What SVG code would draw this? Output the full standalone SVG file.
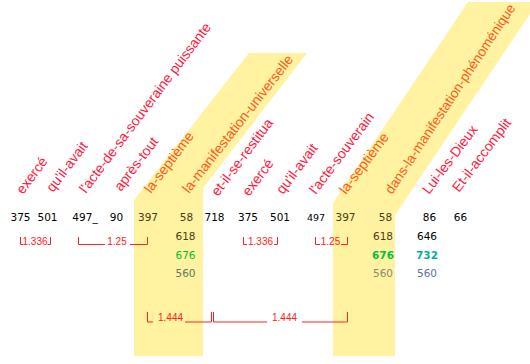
<svg xmlns="http://www.w3.org/2000/svg" width="530" height="364" viewBox="0 0 530 364">
<style>
.lbl{font-family:"Liberation Sans",Arial,sans-serif;font-size:14px;fill:#ff1a40}
.lbo{fill:#ff5a1a}
.num{font-family:"DejaVu Sans",Verdana,sans-serif;font-size:10.5px;fill:#000;text-anchor:middle}
.dk{fill:#4a3c14}
.br{fill:none;stroke:#ff2020;stroke-width:1}
.bt{font-family:"Liberation Sans",Arial,sans-serif;font-size:10px;fill:#ff2020;text-anchor:middle}
.band{fill:#fff2a0}
</style>
<rect width="530" height="364" fill="#ffffff"/>
<g id="band1"><polygon class="band" points="249,53 307,53 203,188 203,356 134,356 134,200"/></g>
<g id="band2"><polygon class="band" points="468,2 538,2 395,215 395,356 333,356 333,203"/></g>
<g id="labels">
<text class="lbl" x="23" y="195" transform="rotate(-53 23 195)">exercé</text>
<text class="lbl" x="53" y="193" transform="rotate(-53 53 193)">qu'il-avait</text>
<text class="lbl" x="86" y="194" transform="rotate(-53 86 194)">l'acte-de-sa-souveraine puissante</text>
<text class="lbl" x="121" y="192" transform="rotate(-53 121 192)">après-tout</text>
<text class="lbl lbo" x="151" y="194" transform="rotate(-53 151 194)">la-septième</text>
<text class="lbl lbo" x="189" y="194" transform="rotate(-52 189 194)">la-manifestation-universelle</text>
<text class="lbl" x="218" y="197" transform="rotate(-53 218 197)">et-il-se-restitua</text>
<text class="lbl" x="249" y="197" transform="rotate(-53 249 197)">exercé</text>
<text class="lbl" x="283" y="195" transform="rotate(-53 283 195)">qu'il-avait</text>
<text class="lbl" x="316" y="195" transform="rotate(-53 316 195)">l'acte-souverain</text>
<text class="lbl lbo" x="346" y="195" transform="rotate(-53 346 195)">la-septième</text>
<text class="lbl lbo" x="392" y="195" transform="rotate(-56.5 392 195)" style="font-size:13.6px">dans-la-manifestation-phénoménique</text>
<text class="lbl" x="429" y="195" transform="rotate(-53 429 195)">Lui-les-Dieux</text>
<text class="lbl" x="459" y="193" transform="rotate(-53 459 193)">Et-il-accomplit</text>
</g>
<g id="numbers">
<text class="num" x="20.5" y="221">375</text>
<text class="num" x="47.5" y="221">501</text>
<text class="num" x="85" y="221">497_</text>
<text class="num" x="116.5" y="221">90</text>
<text class="num dk" x="148" y="221">397</text>
<text class="num dk" x="186.5" y="221">58</text>
<text class="num" x="214.5" y="221">718</text>
<text class="num" x="248" y="221">375</text>
<text class="num" x="280" y="221">501</text>
<text class="num" x="316" y="221" style="font-size:9.5px">497</text>
<text class="num dk" x="345.5" y="221">397</text>
<text class="num dk" x="385.5" y="221">58</text>
<text class="num" x="429.5" y="221">86</text>
<text class="num" x="460.5" y="221">66</text>
<text class="num dk" x="185.5" y="240">618</text>
<text class="num" x="185.5" y="258.5" style="fill:#00c030">676</text>
<text class="num" x="185.5" y="277" style="fill:#5c7a60">560</text>
<text class="num dk" x="383" y="240">618</text>
<text class="num" x="383" y="258.5" style="fill:#00c040;font-weight:bold">676</text>
<text class="num" x="383" y="277" style="fill:#8a8a70">560</text>
<text class="num" x="427" y="240">646</text>
<text class="num" x="427" y="258.5" style="fill:#00b0a0;font-weight:bold">732</text>
<text class="num" x="427" y="277" style="fill:#6070a0">560</text>
</g>
<g id="connectors">
<path class="br" d="M20.5,237 V244.5 H23 M47.5,244.5 H50.5 V237"/>
<text class="bt" x="35" y="244.5">1.336</text>
<path class="br" d="M78.5,237 V244.5 H105 M130,244.5 H147.5 V237"/>
<text class="bt" x="117" y="244.5">1.25</text>
<path class="br" d="M243.5,237 V244.5 H247 M274,244.5 H277.5 V237"/>
<text class="bt" x="260.5" y="244.5">1.336</text>
<path class="br" d="M315.5,237 V244.5 H320 M341,244.5 H347.5 V237"/>
<text class="bt" x="330.5" y="244.5">1.25</text>
<path class="br" d="M147.5,312 V322 H153 M185,322 H211.5 V312"/>
<text class="bt" x="170.5" y="321">1.444</text>
<path class="br" d="M213.5,312 V322 H267 M302,322 H347.5 V312"/>
<text class="bt" x="284.5" y="321">1.444</text>
</g>
</svg>
